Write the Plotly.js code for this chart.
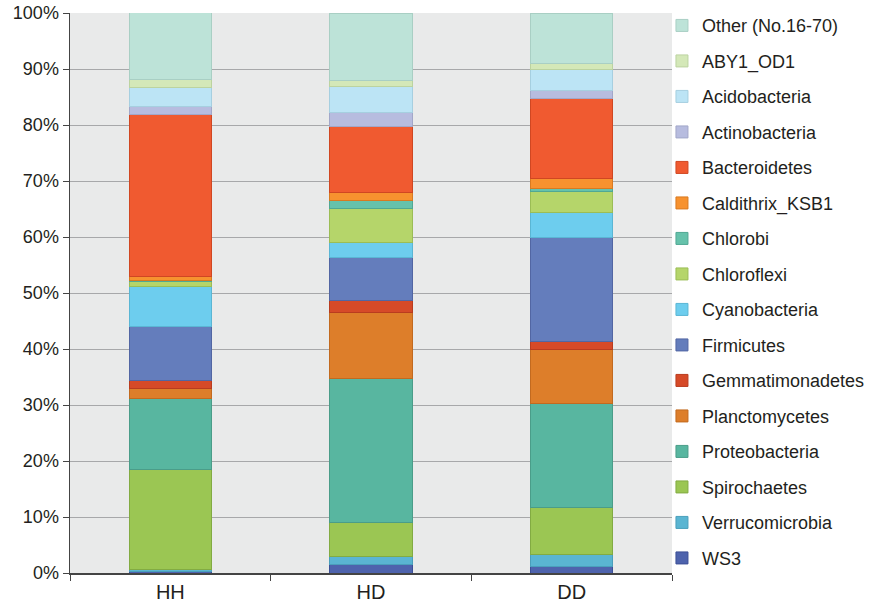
<!DOCTYPE html>
<html>
<head>
<meta charset="utf-8">
<script src="https://cdn.plot.ly/plotly-3.0.1.min.js"></script>
<style>html,body{margin:0;padding:0;background:#fff;}#chart{width:871px;height:602px;}</style>
</head>
<body>
<div id="chart"></div>
<script>
// Categories (samples)
var samples = ["HH", "HD", "DD"];

// Phyla, bottom of stack first
var phyla = ["WS3", "Verrucomicrobia", "Spirochaetes", "Proteobacteria", "Planctomycetes",
  "Gemmatimonadetes", "Firmicutes", "Cyanobacteria", "Chloroflexi", "Chlorobi",
  "Caldithrix_KSB1", "Bacteroidetes", "Actinobacteria", "Acidobacteria", "ABY1_OD1", "Other (No.16-70)"];

// Relative abundance (%) per phylum, in order HH, HD, DD
var WS3              = [0.30, 1.55, 1.13];
var Verrucomicrobia  = [0.35, 1.35, 2.20];
var Spirochaetes     = [17.75, 6.20, 8.37];
var Proteobacteria   = [12.80, 25.70, 18.50];
var Planctomycetes   = [1.70, 11.70, 9.80];
var Gemmatimonadetes = [1.40, 2.10, 1.40];
var Firmicutes       = [9.80, 7.70, 18.50];
var Cyanobacteria    = [7.15, 2.80, 4.40];
var Chloroflexi      = [0.80, 5.95, 3.85];
var Chlorobi         = [0.10, 1.45, 0.45];
var Caldithrix_KSB1  = [0.80, 1.40, 1.90];
var Bacteroidetes    = [29.00, 11.90, 14.30];
var Actinobacteria   = [1.30, 2.40, 1.45];
var Acidobacteria    = [3.50, 4.76, 3.75];
var ABY1_OD1         = [1.30, 0.90, 0.90];
var Other            = [12.00, 12.14, 9.10];

var seriesValues = [WS3, Verrucomicrobia, Spirochaetes, Proteobacteria, Planctomycetes,
  Gemmatimonadetes, Firmicutes, Cyanobacteria, Chloroflexi, Chlorobi,
  Caldithrix_KSB1, Bacteroidetes, Actinobacteria, Acidobacteria, ABY1_OD1, Other];

var yTickVals = [0, 10, 20, 30, 40, 50, 60, 70, 80, 90, 100];
var yTickLabels = ["0%", "10%", "20%", "30%", "40%", "50%", "60%", "70%", "80%", "90%", "100%"];

// Styles
var fillColors = ["#4e63ad", "#5ab5d2", "#9bc653", "#58b6a0", "#dd7e2a",
  "#d64a28", "#647dbc", "#6dcdee", "#b5d56a", "#66c2ab",
  "#f7922f", "#f05a30", "#b7bcdf", "#bce4f5", "#d4e8b8", "#bde3d8"];
var lineColors = ["#3c4f96", "#4a9fbb", "#82ab42", "#4a9d89", "#c26a1f",
  "#b93c1f", "#5266a3", "#5ab6d4", "#9bbd55", "#51a893",
  "#d97a20", "#d04722", "#a2a7c9", "#a6cfe0", "#bcd3a0", "#a9cfc4"];

var traces = phyla.map(function (name, i) {
  return {
    type: "bar",
    name: name,
    x: samples,
    y: seriesValues[i],
    legendgroup: "g" + i,
    legendrank: 1000 - i,
    marker: {color: fillColors[i], line: {color: lineColors[i], width: 1}},
    hoverinfo: "name+y"
  };
});

var layout = {
  width: 871,
  height: 602,
  barmode: "stack",
  bargap: 0.59,
  paper_bgcolor: "#ffffff",
  plot_bgcolor: "#e9eaea",
  margin: {l: 70, r: 199, t: 13, b: 29, pad: 0, autoexpand: false},
  font: {family: "Liberation Sans, Arial, sans-serif", color: "#231f20", size: 18},
  xaxis: {
    type: "category",
    tickson: "boundaries",
    ticks: "outside",
    ticklen: 6,
    tickcolor: "#444",
    showline: true,
    linecolor: "#444",
    linewidth: 1.5,
    showgrid: false,
    tickfont: {size: 20},
    automargin: false
  },
  yaxis: {
    range: [0, 100],
    tickmode: "array",
    tickvals: yTickVals,
    ticktext: yTickLabels,
    ticks: "outside",
    ticklen: 6,
    tickcolor: "#444",
    showline: true,
    linecolor: "#444",
    linewidth: 1.5,
    showgrid: true,
    gridcolor: "#a7a8aa",
    gridwidth: 1,
    zeroline: false,
    tickfont: {size: 18},
    automargin: false
  },
  legend: {
    xref: "container",
    yref: "container",
    x: 0.760,
    xanchor: "left",
    y: 0.988,
    yanchor: "top",
    maxheight: 602,
    traceorder: "grouped",
    tracegroupgap: 9.1,
    font: {size: 18, color: "#231f20"},
    bgcolor: "rgba(0,0,0,0)",
    itemclick: false
  },
  showlegend: true
};

Plotly.newPlot("chart", traces, layout, {displayModeBar: false, staticPlot: true});
</script>
</body>
</html>
